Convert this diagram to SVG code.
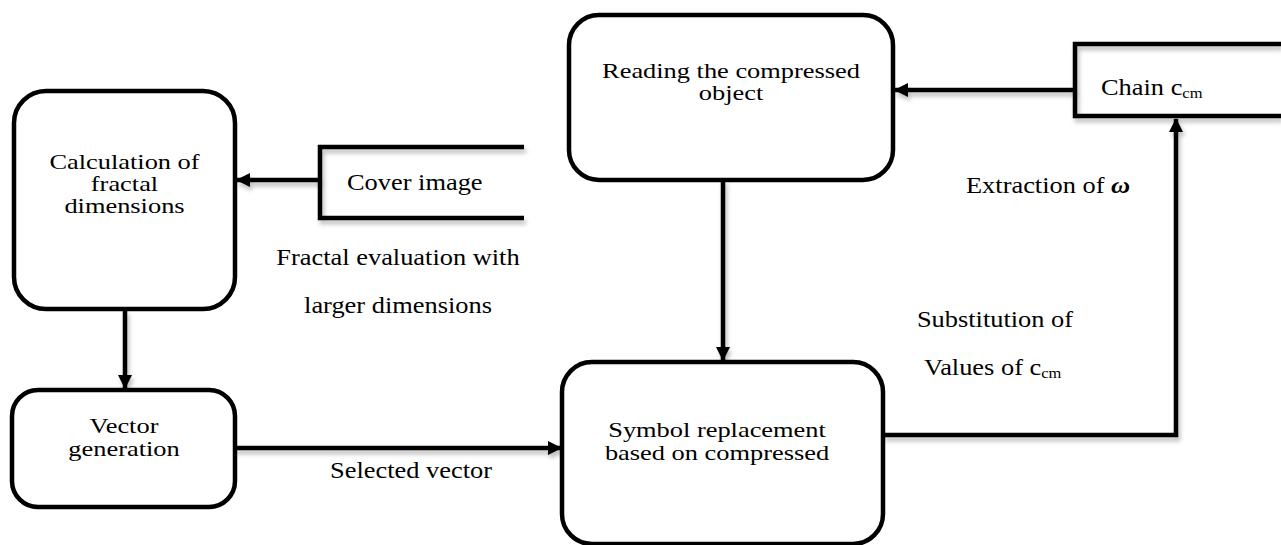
<svg xmlns="http://www.w3.org/2000/svg" width="1281" height="545" viewBox="0 0 1281 545" font-family="'Liberation Serif', 'Times New Roman', serif">
  <defs>
    <style>
      .box { fill: #fff; stroke: #000; stroke-width: 4.5; }
      .line { fill: none; stroke: #000; stroke-width: 4.5; }
      .t { font-family: 'Liberation Serif', 'Times New Roman', serif; font-size: 24px; fill: #000; }
      .in { font-size: 22px; }
      .c { text-anchor: middle; }
      .sub { font-size: 15px; }
    </style>
    <marker id="arrow" viewBox="0 0 14 14" refX="13" refY="7" markerWidth="14" markerHeight="14" markerUnits="userSpaceOnUse" orient="auto">
      <path d="M0,0 L14,7 L0,14 Z" fill="#000"/>
    </marker>
    <filter id="shadow" x="-10%" y="-30%" width="130%" height="180%">
      <feDropShadow dx="2" dy="4" stdDeviation="2" flood-color="#000" flood-opacity="0.25"/>
    </filter>
  </defs>

  <rect width="1281" height="545" fill="#fff"/>

  <!-- connectors -->
  <g id="connectors" filter="url(#shadow)">
    <!-- cover image -> fractal dimensions -->
    <line class="line" x1="320" y1="180" x2="237" y2="180" marker-end="url(#arrow)"/>
    <!-- fractal dimensions -> vector generation -->
    <line class="line" x1="125" y1="310" x2="125" y2="388" marker-end="url(#arrow)"/>
    <!-- vector generation -> symbol replacement -->
    <line class="line" x1="235" y1="448" x2="561" y2="448" marker-end="url(#arrow)"/>
    <!-- reading -> symbol replacement -->
    <line class="line" x1="723" y1="180" x2="723" y2="360" marker-end="url(#arrow)"/>
    <!-- chain -> reading -->
    <line class="line" x1="1075" y1="90" x2="895" y2="90" marker-end="url(#arrow)"/>
    <!-- symbol replacement -> chain -->
    <polyline class="line" points="883,435 1176,435 1176,119" marker-end="url(#arrow)"/>
  </g>

  <!-- connector labels (text is set slightly wide: scale 1.1 horizontally) -->
  <g id="labels">
    <text class="t c" transform="translate(398 265) scale(1.1 1)">Fractal evaluation with</text>
    <text class="t c" transform="translate(398 313) scale(1.1 1)">larger dimensions</text>
    <text class="t c" transform="translate(411 478) scale(1.1 1)">Selected vector</text>
    <text class="t" transform="translate(966 193) scale(1.1 1)">Extraction of <tspan font-weight="bold" font-style="italic">ω</tspan></text>
    <text class="t c" transform="translate(995 327) scale(1.1 1)">Substitution of</text>
    <text class="t" transform="translate(924 375) scale(1.1 1)">Values of c<tspan class="sub" dy="3">cm</tspan></text>
  </g>

  <!-- box captions: tight leading, widened glyphs -->
  <g id="calc-fractal">
    <rect class="box" x="14" y="91" width="221" height="218" rx="32"/>
    <text class="t in c" transform="translate(124.5 169) scale(1.2 1)">Calculation of</text>
    <text class="t in c" transform="translate(124.5 191) scale(1.2 1)">fractal</text>
    <text class="t in c" transform="translate(124.5 213) scale(1.2 1)">dimensions</text>
  </g>

  <g id="cover-image">
    <path class="line" filter="url(#shadow)" d="M524,147 H320 V218 H524"/>
    <text class="t" transform="translate(347 190) scale(1.1 1)">Cover image</text>
  </g>

  <g id="vector-generation">
    <rect class="box" x="12" y="390" width="223" height="117" rx="26"/>
    <text class="t in c" transform="translate(124 433) scale(1.2 1)">Vector</text>
    <text class="t in c" transform="translate(124 456) scale(1.2 1)">generation</text>
  </g>

  <g id="symbol-replacement">
    <rect class="box" x="562" y="362" width="321" height="182" rx="30"/>
    <text class="t in c" transform="translate(717 437) scale(1.2 1)">Symbol replacement</text>
    <text class="t in c" transform="translate(717 460) scale(1.2 1)">based on compressed</text>
  </g>

  <g id="reading-object">
    <rect class="box" x="569" y="15" width="324" height="165" rx="30"/>
    <text class="t in c" transform="translate(731 78) scale(1.2 1)">Reading the compressed</text>
    <text class="t in c" transform="translate(731 100) scale(1.2 1)">object</text>
  </g>

  <g id="chain-ccm">
    <path class="line" filter="url(#shadow)" d="M1281,44 H1075 V116 H1281"/>
    <text class="t" transform="translate(1101 95) scale(1.1 1)">Chain c<tspan class="sub" dy="3">cm</tspan></text>
  </g>
</svg>
